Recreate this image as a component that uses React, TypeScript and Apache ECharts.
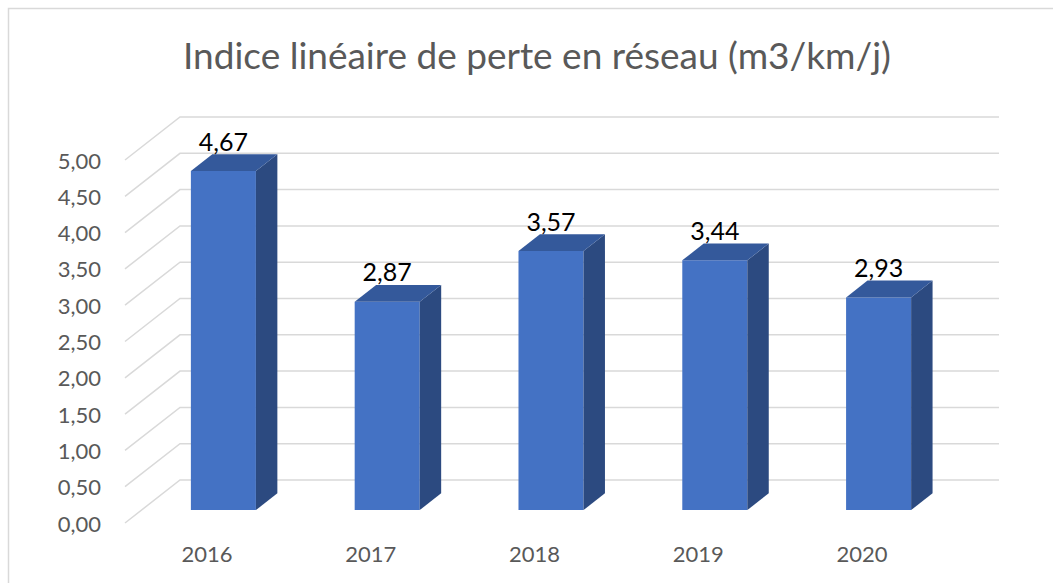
import React, { useEffect, useRef } from "react";
import * as echarts from "echarts";

const TITLE = "Indice linéaire de perte en réseau (m3/km/j)";
const CATEGORIES = ["2016", "2017", "2018", "2019", "2020"];
const VALUES = [4.67, 2.87, 3.57, 3.44, 2.93];
const Y_TICKS = [0, 0.5, 1, 1.5, 2, 2.5, 3, 3.5, 4, 4.5, 5];

const DEPTH_X = 55;
const DEPTH_Y = -43;
const FRONT_T = 0.3;
const BAR_T = 0.39;
const BAR_RATIO = 0.397;
const FRONT_COLOR = "#4472C4";
const SIDE_COLOR = "#2C4A80";
const TOP_COLOR = "#34599B";
const GRID_COLOR = "#D9D9D9";
const TEXT_COLOR = "#595959";
const FONT = "Lato, 'Noto Sans', sans-serif";

const fmt = (v: number) => v.toFixed(2).replace(".", ",");

export default function App() {
  const ref = useRef<HTMLDivElement>(null);
  useEffect(() => {
    if (!ref.current) return;
    const chart = echarts.init(ref.current, undefined, { renderer: "svg" });
    chart.setOption({
      animation: false,
      backgroundColor: "#ffffff",
      textStyle: { fontFamily: FONT },
      title: {
        text: TITLE,
        left: 532,
        top: 31,
        textAlign: "center",
        textStyle: { fontFamily: FONT, fontSize: 37, fontWeight: "normal", color: TEXT_COLOR },
      },
      graphic: [
        {
          type: "rect",
          shape: { x: 8.5, y: 8.5, width: 1100, height: 700 },
          style: { fill: "none", stroke: GRID_COLOR, lineWidth: 1.5 },
          silent: true,
        },
      ],
      grid: { left: 125, right: 109, top: 160, bottom: 60 },
      xAxis: {
        type: "category",
        data: CATEGORIES,
        axisLine: { show: false },
        axisTick: { show: false },
        axisLabel: { color: TEXT_COLOR, fontSize: 22, margin: 19, fontFamily: FONT },
      },
      yAxis: {
        type: "value",
        min: 0,
        max: 5,
        interval: 0.5,
        axisLine: { show: false },
        axisTick: { show: false },
        splitLine: { show: false },
        axisLabel: { color: TEXT_COLOR, fontSize: 22, margin: 24, fontFamily: FONT, formatter: (v: number) => fmt(v) },
      },
      series: [
        {
          type: "custom",
          z: 1,
          silent: true,
          data: Y_TICKS.map((t) => [0, t]),
          renderItem: (params: any, api: any) => {
            const cs = params.coordSys;
            const y = api.coord([0, api.value(1)])[1];
            const x = cs.x;
            return {
              type: "polyline",
              shape: {
                points: [
                  [x, y],
                  [x + DEPTH_X, y + DEPTH_Y],
                  [x + cs.width + DEPTH_X, y + DEPTH_Y],
                ],
              },
              style: { stroke: GRID_COLOR, lineWidth: 1.5, fill: "none" },
            };
          },
        },
        {
          type: "custom",
          z: 2,
          data: VALUES.map((v, i) => [i, v]),
          renderItem: (params: any, api: any) => {
            const i = api.value(0);
            const v = api.value(1);
            const top = api.coord([i, v]);
            const base = api.coord([i, 0]);
            const band = api.size([1, 0])[0];
            const w = band * BAR_RATIO;
            const ox = DEPTH_X * FRONT_T;
            const oy = DEPTH_Y * FRONT_T;
            const x0 = top[0] - w / 2 + ox;
            const x1 = x0 + w;
            const yT = top[1] + oy;
            const yB = base[1] + oy;
            const dx = DEPTH_X * BAR_T;
            const dy = DEPTH_Y * BAR_T;
            return {
              type: "group",
              children: [
                {
                  type: "polygon",
                  shape: { points: [[x0, yT], [x1, yT], [x1, yB], [x0, yB]] },
                  style: { fill: FRONT_COLOR },
                },
                {
                  type: "polygon",
                  shape: { points: [[x1, yT], [x1 + dx, yT + dy], [x1 + dx, yB + dy], [x1, yB]] },
                  style: { fill: SIDE_COLOR },
                },
                {
                  type: "polygon",
                  shape: { points: [[x0, yT], [x0 + dx, yT + dy], [x1 + dx, yT + dy], [x1, yT]] },
                  style: { fill: TOP_COLOR },
                },
                {
                  type: "text",
                  style: {
                    text: fmt(v),
                    x: (x0 + x1) / 2,
                    y: yT + dy - 1,
                    align: "center",
                    verticalAlign: "bottom",
                    fill: "#000000",
                    fontSize: 25,
                    fontFamily: FONT,
                  },
                },
              ],
            };
          },
        },
      ],
    });
    return () => chart.dispose();
  }, []);
  return (
    <div
      ref={ref}
      style={{ position: "fixed", left: 0, top: 0, width: 1053, height: 583 }}
    />
  );
}
